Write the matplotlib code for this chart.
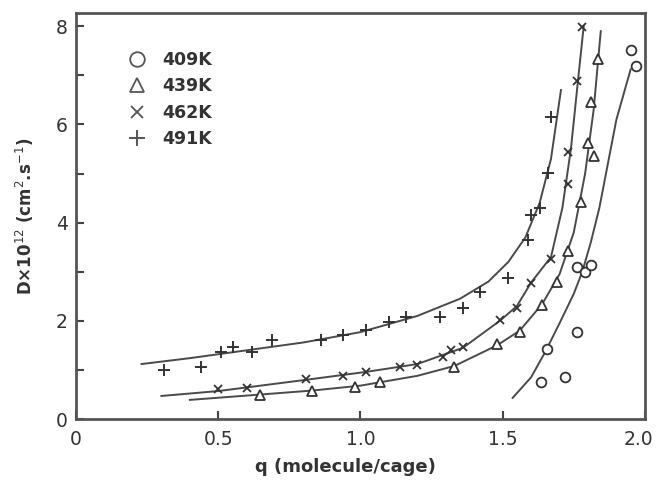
import matplotlib
matplotlib.use("Agg")
import matplotlib.pyplot as plt
import matplotlib.transforms as mtransforms

# measured points (q in molecule/cage, D x 1e12 cm2/s)
q_409 = [1.635, 1.655, 1.72, 1.76, 1.76, 1.79, 1.81, 1.95, 1.97]
d_409 = [0.76, 1.43, 0.86, 1.78, 3.10, 3.00, 3.14, 7.51, 7.18]

q_439 = [0.645, 0.83, 0.98, 1.07, 1.33, 1.48, 1.56, 1.64, 1.69, 1.73, 1.775, 1.80, 1.82, 1.81, 1.835]
d_439 = [0.49, 0.57, 0.65, 0.76, 1.06, 1.53, 1.78, 2.33, 2.80, 3.42, 4.43, 5.63, 5.35, 6.45, 7.33]

q_462 = [0.50, 0.60, 0.81, 0.94, 1.02, 1.14, 1.20, 1.29, 1.32, 1.36, 1.49, 1.55, 1.60, 1.67, 1.73, 1.73, 1.76, 1.78]
d_462 = [0.61, 0.63, 0.82, 0.88, 0.96, 1.06, 1.10, 1.27, 1.41, 1.47, 2.02, 2.26, 2.78, 3.26, 4.78, 5.43, 6.88, 7.98]

q_491 = [0.31, 0.44, 0.51, 0.55, 0.62, 0.69, 0.86, 0.94, 1.02, 1.10, 1.16, 1.28, 1.36, 1.42, 1.52, 1.59, 1.60, 1.63, 1.66, 1.67]
d_491 = [1.00, 1.06, 1.37, 1.47, 1.37, 1.60, 1.60, 1.71, 1.82, 1.98, 2.08, 2.08, 2.26, 2.59, 2.88, 3.65, 4.16, 4.30, 5.02, 6.16]

# fitted curves
cq_409 = [1.535, 1.60, 1.65, 1.70, 1.75, 1.78, 1.81, 1.84, 1.87, 1.90, 1.95]
cd_409 = [0.43, 0.85, 1.37, 1.95, 2.55, 3.0, 3.6, 4.3, 5.2, 6.1, 7.12]

cq_439 = [0.40, 0.65, 0.83, 1.00, 1.20, 1.33, 1.48, 1.56, 1.64, 1.70, 1.75, 1.79, 1.82, 1.845]
cd_439 = [0.39, 0.50, 0.58, 0.68, 0.88, 1.08, 1.50, 1.80, 2.35, 2.95, 3.80, 5.00, 6.30, 7.90]

cq_462 = [0.30, 0.50, 0.81, 1.02, 1.20, 1.36, 1.49, 1.55, 1.60, 1.67, 1.71, 1.74, 1.765, 1.785]
cd_462 = [0.47, 0.57, 0.80, 0.96, 1.12, 1.45, 2.00, 2.30, 2.78, 3.30, 4.30, 5.50, 6.90, 8.00]

cq_491 = [0.23, 0.40, 0.60, 0.80, 1.00, 1.20, 1.35, 1.45, 1.52, 1.58, 1.63, 1.67, 1.705]
cd_491 = [1.12, 1.24, 1.40, 1.56, 1.77, 2.10, 2.45, 2.80, 3.20, 3.70, 4.40, 5.30, 6.70]

labels = ["409K", "439K", "462K", "491K"]

fig = plt.figure(figsize=(6.56, 4.8), dpi=100)
ax = fig.add_axes([0.116, 0.127, 0.867, 0.846])

lc = "#4a4a4a"
mc = "#333333"
for cq, cd in [(cq_409, cd_409), (cq_439, cd_439), (cq_462, cd_462), (cq_491, cd_491)]:
    ax.plot(cq, cd, color=lc, lw=1.4)

h1, = ax.plot(q_409, d_409, "o", ms=7, mfc="white", mec=mc, mew=1.3, label=labels[0])
h2, = ax.plot(q_439, d_439, "^", ms=7, mfc="white", mec=mc, mew=1.3, label=labels[1])
h3, = ax.plot(q_462, d_462, "x", ms=6, color=mc, mew=1.3, label=labels[2])
h4, = ax.plot(q_491, d_491, "+", ms=8, color=mc, mew=1.4, label=labels[3])

leg = ax.legend(handles=[h1, h2, h3, h4], loc="upper left", bbox_to_anchor=(0.091, 0.906),
                frameon=False, markerscale=1.5, handlelength=1.0, handletextpad=1.0,
                labelspacing=0.48, borderpad=0, borderaxespad=0,
                prop={"weight": "bold", "size": 12.5})
for t in leg.get_texts():
    t.set_color("#333333")
for lh in leg.legend_handles:
    lh.set_markeredgecolor("#555555")
    lh.set_color("#555555")

ax.set_xlim(0, 2.0)
ax.set_ylim(0, 8.27)
ax.set_xticks([0, 0.5, 1.0, 1.5, 2.0])
ax.set_xticklabels(["0", "0.5", "1.0", "1.5", "2.0"])
ax.set_yticks([0, 2, 4, 6, 8])
ax.set_yticks([1, 3, 5, 7], minor=True)
ax.tick_params(axis="both", which="both", direction="in", length=6, width=1.5,
               colors="#444444", labelsize=13.5, labelcolor="#333333", pad=6)
ax.tick_params(axis="x", pad=8)

# nudge the last x tick label left so it stays inside the figure
last = ax.get_xticklabels()[-1]
last.set_transform(last.get_transform() + mtransforms.ScaledTranslation(-6 / 100, 0, fig.dpi_scale_trans))

for s in ax.spines.values():
    s.set_linewidth(2)
    s.set_color("#555555")

ax.set_xlabel("q (molecule/cage)", fontsize=13, fontweight="bold", color="#333333")
ax.xaxis.set_label_coords(0.473, -0.095)
ax.set_ylabel("D\u00d710$^{12}$ (cm$^{2}$.s$^{-1}$)", fontsize=12, fontweight="bold",
              color="#333333", labelpad=14)

fig.savefig("out.png", dpi=100)
